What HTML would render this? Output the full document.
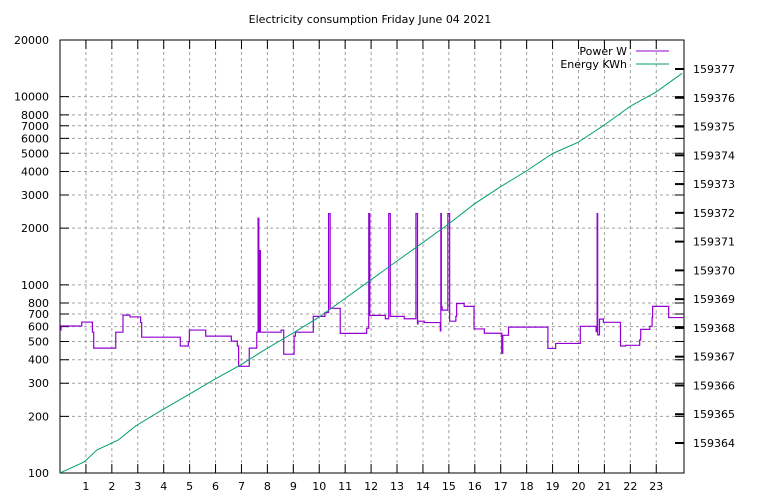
<!DOCTYPE html>
<html><head><meta charset="utf-8"><style>
body{margin:0;background:#fff;}
svg{display:block;font-family:"DejaVu Sans","Liberation Sans",sans-serif;font-size:11px;}
</style></head><body>
<svg id="chart" width="768" height="500" viewBox="0 0 768 500" xmlns="http://www.w3.org/2000/svg">
<rect width="768" height="500" fill="#fff"/>
<text x="370" y="23" text-anchor="middle">Electricity consumption Friday June 04 2021</text>
<g id="grid"></g>
<g id="axes"></g>
<g id="series"></g>
<g id="legend">
<text x="627" y="55" text-anchor="end">Power W</text>
<line x1="636" y1="51" x2="669" y2="51" stroke="#9400d3" stroke-width="1"/>
<text x="627" y="68" text-anchor="end">Energy KWh</text>
<line x1="636" y1="64" x2="669" y2="64" stroke="#009e73" stroke-width="1"/>
</g>
</svg>
<script>
const xTicks=[1,2,3,4,5,6,7,8,9,10,11,12,13,14,15,16,17,18,19,20,21,22,23];
const yTicks=[100,200,300,400,500,600,700,800,1000,2000,3000,4000,5000,6000,7000,8000,10000,20000];
const y2Ticks=[159364,159365,159366,159367,159368,159369,159370,159371,159372,159373,159374,159375,159376,159377];
const powerTimes=[0,0.04,0.84,1.25,1.30,2.15,2.43,2.70,3.11,3.15,4.64,4.95,4.99,5.62,6.61,6.84,6.89,7.30,7.59,7.64,7.67,7.70,7.73,8.53,8.63,9.03,9.08,9.77,10.22,10.36,10.42,10.81,11.83,11.91,11.95,12.55,12.68,12.74,13.28,13.73,13.79,13.81,14.05,14.67,14.69,14.71,14.74,14.96,15.03,15.27,15.30,15.59,15.97,16.37,17.04,17.08,17.30,18.82,19.12,20.07,20.68,20.72,20.74,20.77,20.81,20.96,21.62,21.82,22.36,22.40,22.75,22.84,22.86,23.48,24.07];
const powerValues=[575,604,634,560,461,560,690,675,630,527,473,499,575,534,502,473,369,461,560,2260,560,1520,560,575,428,534,560,680,713,2390,750,552,588,2390,688,660,2390,680,660,2390,620,641,630,569,2390,765,734,2390,641,680,796,768,583,553,433,539,596,459,488,602,565,2390,542,542,657,632,473,477,510,580,602,670,768,670,670];
const energyTimes=[0,0.93,1.43,2.24,2.93,3.94,4.94,5.94,6.94,7.95,8.95,9.95,10.96,11.96,12.96,13.97,14.97,15.97,16.98,17.98,18.98,19.98,20.99,21.99,22.99,24.0];
const energyValues=[159362.96,159363.34,159363.76,159364.1,159364.6,159365.15,159365.67,159366.2,159366.7,159367.27,159367.8,159368.35,159369.0,159369.65,159370.3,159370.95,159371.6,159372.3,159372.9,159373.45,159374.05,159374.45,159375.05,159375.7,159376.2,159376.85];

const L=60,R=684,T=40,B=473,XMIN=0,XMAX=24.07,YMIN=100,YMAX=20000,Y2MIN=159362.957,Y2MAX=159378.008;
const NS="http://www.w3.org/2000/svg";
const sx=v=>L+(v-XMIN)/(XMAX-XMIN)*(R-L);
const sy=v=>B-(Math.log10(v)-Math.log10(YMIN))/(Math.log10(YMAX)-Math.log10(YMIN))*(B-T);
const sy2=v=>B-(v-Y2MIN)/(Y2MAX-Y2MIN)*(B-T);
function mk(tag,attrs,parent){const e=document.createElementNS(NS,tag);for(const k in attrs)e.setAttribute(k,attrs[k]);parent.appendChild(e);return e;}
const grid=document.getElementById('grid'),axes=document.getElementById('axes'),series=document.getElementById('series');
const gs={stroke:'#a0a0a0','stroke-width':1,'stroke-dasharray':'3,3'};
xTicks.forEach(t=>{const x=sx(t);
 const g=mk('line',Object.assign({x1:x,y1:T,x2:x,y2:B},gs),grid);
 
 
 const tk=mk('path',{d:`M${x},${B}v-9M${x},${T}v9`,stroke:'#000'},axes);
 
 
 const lb=mk('text',{x:x,y:490,'text-anchor':'middle'},axes);lb.textContent=t;
 
 
});
yTicks.forEach(t=>{const y=sy(t);
 if(t>YMIN&&t<YMAX){const g=mk('line',Object.assign({x1:L,y1:y,x2:R,y2:y},gs),grid);
 
 }
 const tk=mk('path',{d:`M${L},${y}h9M${R},${y}h-9`,stroke:'#000'},axes);
 
 
 const lb=mk('text',{x:49,y:y+4,'text-anchor':'end'},axes);lb.textContent=t;
 
 
});
y2Ticks.forEach(t=>{const y=sy2(t);
 const tk=mk('path',{d:`M${R},${y}h-9`,stroke:'#000','stroke-width':2},axes);
 
 
 const lb=mk('text',{x:693,y:y+4,'text-anchor':'start'},axes);lb.textContent=t;
 
 
});
const frame=mk('rect',{x:L,y:T,width:R-L,height:B-T,fill:'none',stroke:'#000'},axes);


let d='';
powerTimes.forEach((t,i)=>{const x=sx(t),y=sy(powerValues[i]);
 if(i===0)d+=`M${x},${y}`;else d+=`H${x}V${y}`;});
const pw=mk('path',{d:d,fill:'none',stroke:'#9400d3','stroke-width':1.2},series);


const ed=energyTimes.map((t,i)=>(i?'L':'M')+sx(t)+','+sy2(energyValues[i])).join('');
const en=mk('path',{d:ed,fill:'none',stroke:'#009e73','stroke-width':1},series);


</script>
</body></html>
